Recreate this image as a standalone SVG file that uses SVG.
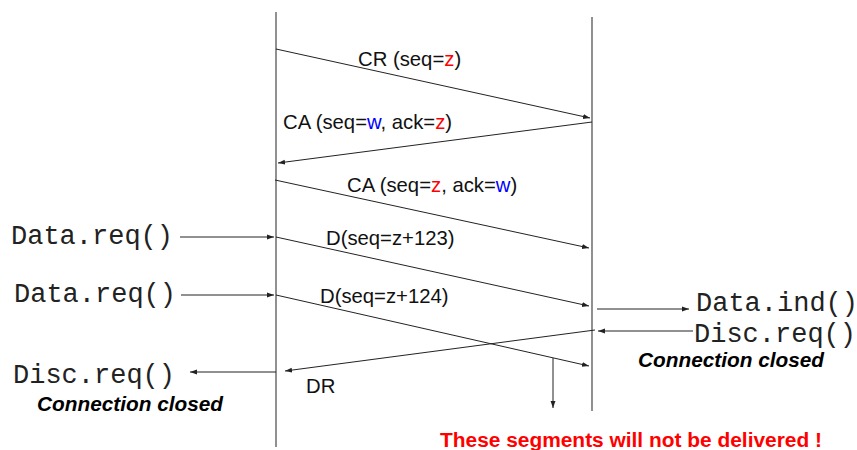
<svg xmlns="http://www.w3.org/2000/svg" width="857" height="450" viewBox="0 0 857 450">
<style>
.life{stroke:#555;stroke-width:1.3;fill:none}
.msg{stroke:#222;stroke-width:1;fill:none;marker-end:url(#ah)}
.lbl{font-family:"Liberation Sans",Arial,sans-serif;font-size:20.3px;fill:#111}
.mono{font-family:"Liberation Mono","Courier New",monospace;font-size:27px;fill:#222}
.closed{font-family:"Liberation Sans",Arial,sans-serif;font-size:20.8px;font-weight:bold;font-style:italic;fill:#000}
.red{fill:#ff0000}
.blue{fill:#0000ff}
.warn{font-family:"Liberation Sans",Arial,sans-serif;font-size:20.9px;font-weight:bold;fill:#ff0000}
</style>
<defs>
<marker id="ah" viewBox="0 0 10 10" refX="10" refY="5" markerWidth="7" markerHeight="7" markerUnits="userSpaceOnUse" orient="auto">
<path d="M0,1.5 L10,5 L0,8.5 Z" fill="#222"/>
</marker>
</defs>
<g id="lifelines">
<line id="left-lifeline" class="life" x1="276" y1="12" x2="276" y2="447"/>
<line id="right-lifeline" class="life" x1="592" y1="17" x2="592" y2="411"/>
</g>
<g id="connectors">
<line class="msg" x1="276" y1="49" x2="590" y2="118"/>
<line class="msg" x1="592" y1="122" x2="278" y2="163"/>
<line class="msg" x1="275" y1="180" x2="589" y2="248"/>
<line class="msg" x1="276" y1="237" x2="589" y2="306"/>
<line class="msg" x1="276" y1="295" x2="589" y2="366"/>
<line class="msg" x1="595" y1="330" x2="285" y2="371"/>
<line class="msg" x1="180" y1="237" x2="274" y2="237"/>
<line class="msg" x1="181" y1="295" x2="274" y2="295"/>
<line class="msg" x1="276" y1="372" x2="190" y2="372"/>
<line class="msg" x1="597" y1="309" x2="689" y2="309"/>
<line class="msg" x1="693" y1="331" x2="598" y2="331"/>
<line class="msg" x1="553" y1="358" x2="553" y2="408"/>
</g>
<g id="msg-labels">
<text class="lbl" x="358" y="66">CR (seq=<tspan class="red">z</tspan>)</text>
<text class="lbl" x="283" y="129">CA (seq=<tspan class="blue">w</tspan>, ack=<tspan class="red">z</tspan>)</text>
<text class="lbl" x="347" y="192">CA (seq=<tspan class="red">z</tspan>, ack=<tspan class="blue">w</tspan>)</text>
<text class="lbl" x="326" y="245">D(seq=z+123)</text>
<text class="lbl" x="320" y="303">D(seq=z+124)</text>
<text class="lbl" x="306" y="393">DR</text>
</g>
<g id="left-user">
<text class="mono" x="11" y="244">Data.req()</text>
<text class="mono" x="14" y="302">Data.req()</text>
<text class="mono" x="13" y="383">Disc.req()</text>
<text class="closed" x="37" y="411">Connection closed</text>
</g>
<g id="right-user">
<text class="mono" x="696" y="311">Data.ind()</text>
<text class="mono" x="694" y="342">Disc.req()</text>
<text class="closed" x="638" y="367">Connection closed</text>
</g>
<g id="note">
<text class="warn" x="440" y="447">These segments will not be delivered !</text>
</g>
</svg>
